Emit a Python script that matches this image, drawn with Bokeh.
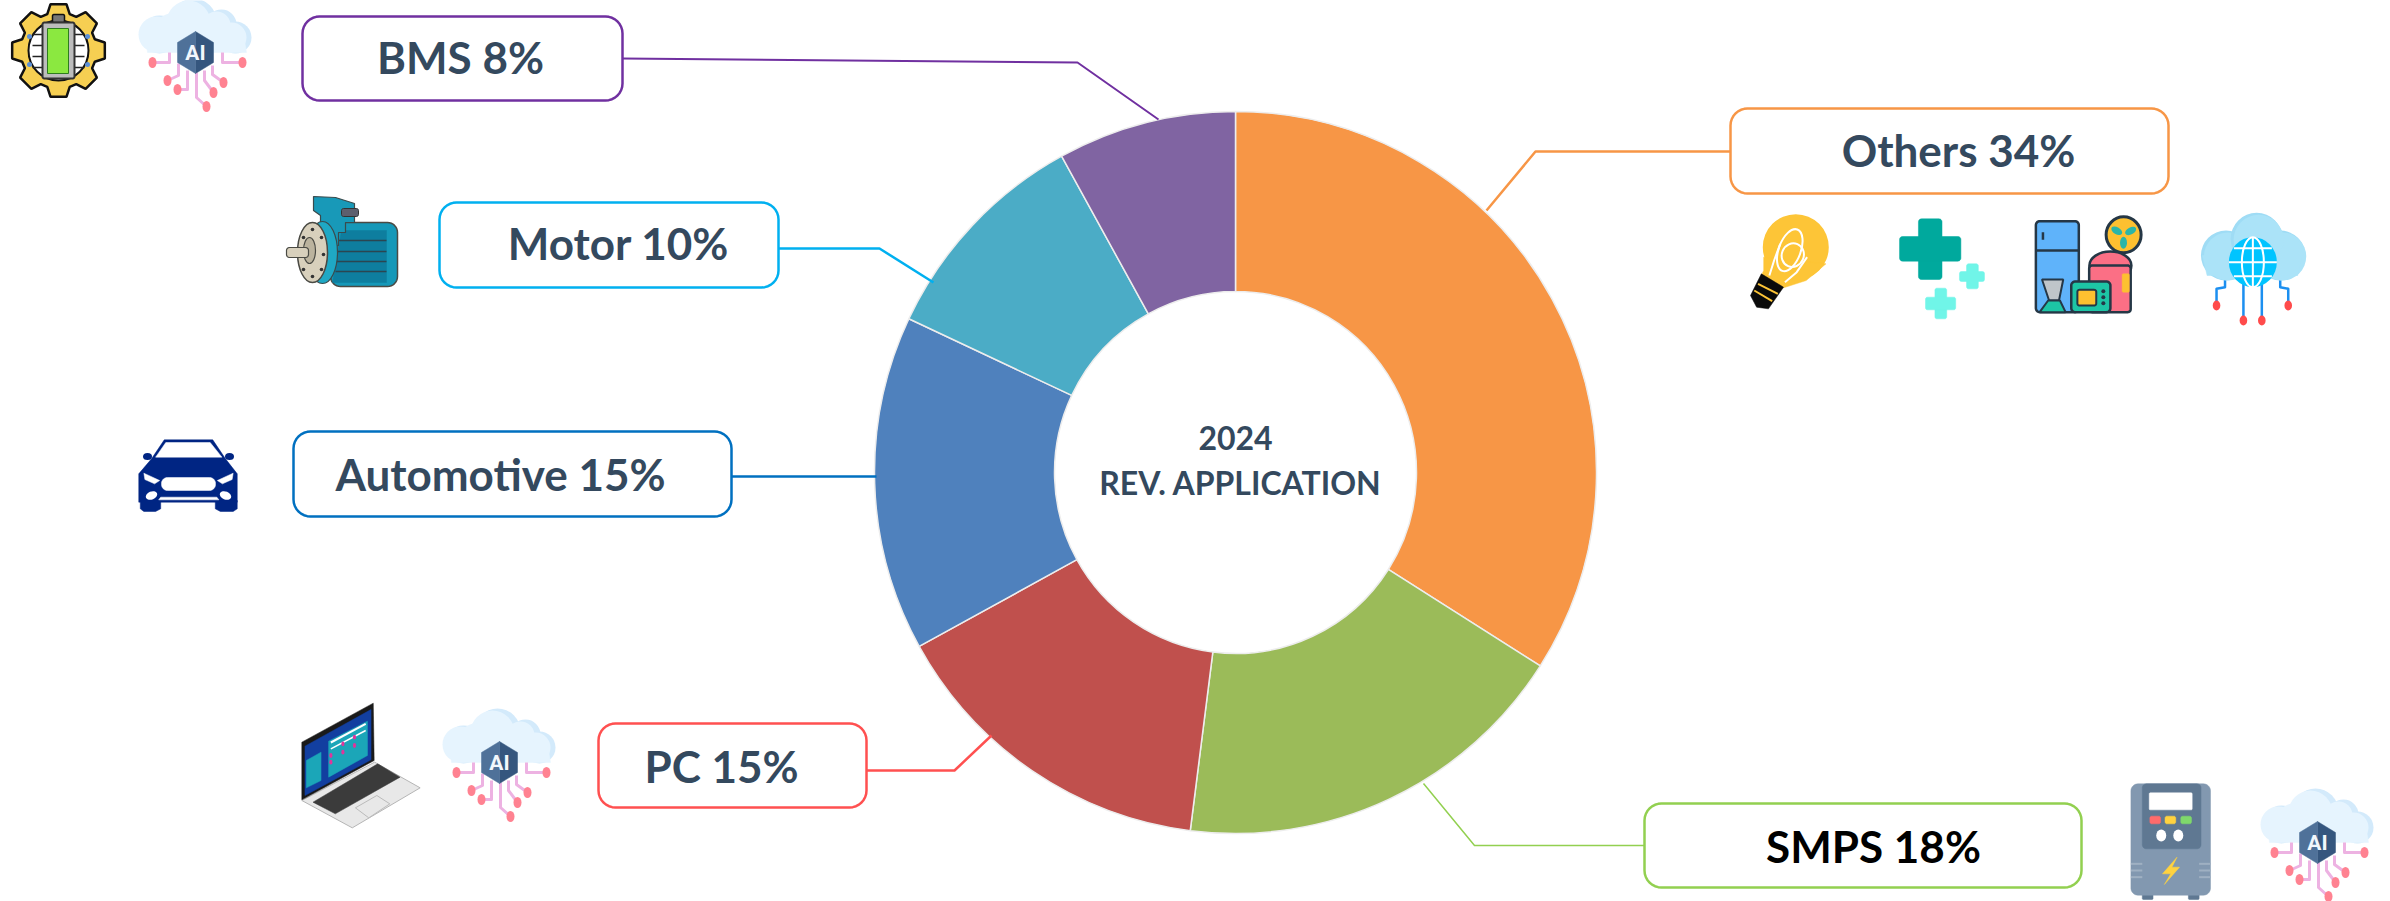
import math
from bokeh.plotting import figure
from bokeh.models import Range1d, ColumnDataSource
from bokeh.core.properties import value
from bokeh.embed import file_html
from bokeh.resources import INLINE

# ---- data -------------------------------------------------------------
categories = ["Others", "SMPS", "PC", "Automotive", "Motor", "BMS"]
shares = [34, 18, 15, 15, 10, 8]
slice_colors = ["#F79646", "#9BBB59", "#C0504D", "#4F81BD", "#4BACC6", "#8064A2"]
center_year = "2024"
center_title = "REV. APPLICATION"

# ---- layout (page pixels) ---------------------------------------------
CX, CY, R_OUT, R_IN = 1235, 472, 361, 181
box_edges = [(1730, 108, 2168, 193), (1644, 803, 2081, 887), (598, 723, 866, 807),
             (293, 431, 731, 516), (439, 202, 778, 287), (302, 16, 622, 100)]
box_colors = ["#F79646", "#92D050", "#FF5050", "#0070C0", "#00B0F0", "#7030A0"]
label_pos = [(1958, 149), (1873, 845), (721, 765), (500, 473), (618, 242), (460, 56)]
label_colors = ["#34495E", "#000000", "#34495E", "#34495E", "#34495E", "#34495E"]
leaders = [
    [(1730, 151), (1535, 151), (1486, 210)],
    [(1644, 845), (1474, 845), (1423, 783)],
    [(866, 770), (954, 770), (991, 735)],
    [(731, 476), (876, 476)],
    [(778, 248), (879, 248), (933, 282)],
    [(622, 58), (1077, 62), (1158, 119)],
]
leader_widths = [2.5, 1.5, 2.5, 2.5, 2.5, 2]

p = figure(width=2390, height=901, x_range=Range1d(0, 2390), y_range=Range1d(-901, 0),
           x_axis_type=None, y_axis_type=None, toolbar_location=None,
           output_backend="svg", min_border=0, outline_line_color=None,
           background_fill_color="white", border_fill_color="white")
p.grid.visible = False


def poly(pts, fill, line=None, lw=1.0):
    p.patch([a for a, _ in pts], [-b for _, b in pts], fill_color=fill,
            line_color=line if line else fill, line_width=lw if line else 0.5)


def line(pts, color, lw=2.0):
    p.line([a for a, _ in pts], [-b for _, b in pts], line_color=color, line_width=lw,
           line_join="round")


def ell(x, y, rx, ry, fill, ln=None, lw=1.0, angle=0.0):
    p.ellipse([x], [-y], width=2 * rx, height=2 * ry, angle=angle, fill_color=fill,
              fill_alpha=1.0 if fill else 0.0, line_color=ln, line_width=lw,
              line_alpha=1.0 if ln else 0.0)


def rrect(x0, y0, x1, y1, r, fill, ln=None, lw=1.0):
    pts = []
    for cx, cy, a0 in [(x1 - r, y0 + r, -90), (x1 - r, y1 - r, 0), (x0 + r, y1 - r, 90), (x0 + r, y0 + r, 180)]:
        for k in range(9):
            t = math.radians(a0 + k * 90 / 8)
            pts.append((cx + r * math.cos(t), cy + r * math.sin(t)))
    poly(pts + pts[:1], fill, ln, lw)


def label(x, y, s, size, color, font="Lato", style="bold"):
    p.text([x], [-y], text=[s], text_font=value(font), text_font_style=style, text_font_size=size,
           text_color=color, text_align="center", text_baseline="middle")


# ---- donut ------------------------------------------------------------
starts, ends, cum = [], [], 0
total = sum(shares)
for s in shares:
    starts.append(math.pi / 2 - 2 * math.pi * (cum + s) / total)
    ends.append(math.pi / 2 - 2 * math.pi * cum / total)
    cum += s
src = ColumnDataSource(dict(cat=categories, share=shares, start=starts, end=ends, color=slice_colors))
p.annular_wedge(x=CX, y=-CY, inner_radius=R_IN, outer_radius=R_OUT, start_angle="start", end_angle="end",
                fill_color="color", line_color="#EDEDED", line_width=1.5, source=src)
label(1235, 437, center_year, "32px", "#34495E")
label(1240, 482, center_title, "32px", "#34495E")

# ---- leaders and callouts ---------------------------------------------
for pts, c, w in zip(leaders, box_colors, leader_widths):
    line(pts, c, w)
for (x0, y0, x1, y1), c in zip(box_edges, box_colors):
    rrect(x0, y0, x1, y1, 17, "#FFFFFF", c, 2.5)
for cat, s, (x, y), c in zip(categories, shares, label_pos, label_colors):
    label(x, y, f"{cat} {s}%", "44px", c)


# ---- pictograms -------------------------------------------------------
def ai_cloud(cx, cy):
    base = "#E6F4FE"
    shade = "#D3EAFB"
    for x, y, r in [(-38, -18, 19), (38, -15, 16), (24, -28, 15), (-4, -31, 23)]:
        ell(cx + x + 2, cy + y, r, r, shade)
    for x, y, r in [(-39, -18, 18), (36, -15, 15), (21, -27, 14), (-7, -30, 22), (-24, -23, 16)]:
        ell(cx + x, cy + y, r, r, base)
    poly([(cx - 50, cy - 18), (cx + 48, cy - 18), (cx + 51, cy), (cx - 48, cy)], base)
    pink = "#EDB2E2"
    dot = "#FF8291"
    tend = [[(-26, 0), (-26, 10), (-43, 10)], [(27, 0), (27, 10), (47, 10)],
            [(-17, 11), (-17, 23), (-28, 28)], [(-8, 18), (-8, 37), (-18, 37)],
            [(1, 20), (1, 45), (11, 54)], [(9, 18), (9, 28), (18, 40)], [(17, 13), (17, 22), (28, 30)]]
    for t in tend:
        line([(cx + a, cy + b) for a, b in t], pink, 3)
        ell(cx + t[-1][0], cy + t[-1][1], 4, 5.5, dot)
    poly([(cx, cy - 21), (cx + 18, cy - 10), (cx + 18, cy + 10), (cx, cy + 21)], "#35567E")
    poly([(cx, cy - 21), (cx - 18, cy - 10), (cx - 18, cy + 10), (cx, cy + 21)], "#4F7199")
    label(cx, cy, "AI", "21px", "#F2F7FC", "Roboto")


# gear + battery
def gear(cx, cy):
    pts = []
    n = 8
    for i in range(n):
        a = 2 * math.pi * i / n - math.pi / 2
        for da, r in [(-0.30, 38), (-0.17, 47), (0.17, 47), (0.30, 38)]:
            pts.append((cx + r * math.cos(a + da), cy + r * math.sin(a + da)))
    poly(pts + pts[:1], "#F6CF52", "#111111", 2.5)
    ell(cx, cy, 30, 30, "#FFFFFF", "#111111", 2)
    for s in (-1, 1):
        for dy in (-16, -5, 6, 17):
            line([(cx + s * 15, cy + dy), (cx + s * 26, cy + dy)], "#222222", 1.5)
        ell(cx + s * 29, cy - 14, 2.5, 2.5, "#5C8FD6")
        ell(cx + s * 29, cy + 14, 2.5, 2.5, "#5C8FD6")
    rrect(cx - 6, cy - 36, cx + 6, cy - 28, 1.5, "#777777", "#111111", 1.5)
    rrect(cx - 16, cy - 28, cx + 16, cy + 28, 2, "#BDBDBD", "#333333", 2)
    poly([(cx - 11, cy - 22), (cx + 10, cy - 22), (cx + 10, cy + 23), (cx - 11, cy + 23), (cx - 11, cy - 22)],
         "#8BE840", "#2E7D1E", 1)


gear(58, 50)
ai_cloud(195, 52)
ai_cloud(499, 762)
ai_cloud(2317, 842)

# motor
rrect(330, 222, 397, 286, 10, "#1598B8", "#4A4A44", 1.5)
poly([(341, 230), (386, 230), (386, 282), (332, 282)], "#0E7E9F")
for yy in (240, 251, 261, 271):
    line([(335, yy), (386, yy)], "#2B4651", 1.5)
poly([(313, 196), (335, 197), (354, 203), (354, 222), (345, 222), (345, 232), (338, 232), (338, 245),
      (320, 250), (320, 215), (313, 210)], "#1899B8", "#3A4A4C", 1.2)
rrect(341, 208, 358, 216, 2, "#5C5F6E", "#333333", 1)
ell(322, 252, 15, 31, "#1FA8C4", "#3A4A4C", 1.2)
ell(312, 252, 15, 30, "#D8D0BC", "#4A4A44", 1.5)
ell(309, 250, 6, 13, "#BBB39E", "#4A4A44", 1.2)
for dx, dy in [(0, -23), (9, -15), (11, 2), (9, 17), (0, 24), (-9, 17), (-9, -15)]:
    ell(312 + dx, 252 + dy, 1.8, 1.8, "#333333")
rrect(286, 247, 308, 257, 3, "#D8D0BC", "#4A4A44", 1.2)


# car
def z5(pts):
    return [(100 + a / 1.96, 180 + b / 3) for a, b in pts]


navy = "#002583"
poly(z5([(100, 835), (125, 778), (220, 778), (245, 835), (268, 880), (268, 965), (75, 965), (75, 880)]), navy)
poly(z5([(78, 960), (118, 960), (118, 985), (108, 993), (85, 993), (78, 985)]), navy)
poly(z5([(225, 960), (268, 960), (268, 985), (260, 993), (235, 993), (225, 985)]), navy)
ell(147, 456, 4.5, 3.5, navy)
ell(229, 456, 4.5, 3.5, navy)
poly(z5([(108, 830), (128, 786), (215, 786), (238, 830)]), "#FFFFFF")
poly(z5([(85, 878), (116, 900), (106, 910), (87, 897)]), "#FFFFFF")
poly(z5([(260, 878), (229, 900), (239, 910), (258, 897)]), "#FFFFFF")
rrect(161, 477, 215, 490, 6, "#FFFFFF")
ell(151, 495, 6, 4, "#FFFFFF", angle=0.4)
ell(225, 495, 6, 4, "#FFFFFF", angle=-0.4)
poly(z5([(118, 950), (228, 950), (232, 958), (114, 958)]), "#FFFFFF")


# laptop
def z3(pts):
    return [(250 + a / 2.24, 680 + b / 3) for a, b in pts]


poly(z3([(115, 360), (278, 245), (380, 322), (228, 442)]), "#E8E8E8", "#B5B5B5", 1)
poly(z3([(140, 365), (285, 250), (335, 290), (190, 400)]), "#3B3B3B")
poly(z3([(235, 382), (283, 345), (312, 370), (265, 412)]), "#E8E8E8", "#BBBBBB", 1)
poly(z3([(115, 185), (275, 68), (277, 240), (115, 358)]), "#1A1A1A")
poly(z3([(122, 197), (270, 87), (270, 238), (122, 345)]), "#123FA0")
poly(z3([(175, 182), (262, 122), (262, 225), (175, 290)]), "#1BA6B8")
poly(z3([(125, 240), (158, 215), (158, 300), (125, 322)]), "#1BA6B8")
line(z3([(180, 186), (258, 130)]), "#FFFFFF", 2)
line(z3([(180, 205), (258, 150)]), "#FFFFFF", 1.5)
for a, b in [(207, 190), (233, 170), (207, 215), (233, 195), (180, 225), (180, 245)]:
    (x, y), = z3([(a, b)])
    ell(x, y, 1.6, 2.4, "#E0359B")


# others group
def z2(pts):
    return [(1650 + a / 2.12, 80 + b / 3) for a, b in pts]


def rect2(a0, b0, a1, b1, r, fill, ln=None, lw=1.0):
    (x0, y0), (x1, y1) = z2([(a0, b0), (a1, b1)])
    rrect(x0, y0, x1, y1, r, fill, ln, lw)


# bulb
(bx, by), = z2([(308, 500)])
ell(bx, by, 33, 33, "#FDC537")
poly(z2([(240, 530), (240, 570), (235, 585), (282, 622), (330, 600), (372, 550)]), "#FDC537")
poly(z2([(235, 580), (282, 620), (250, 685), (225, 680), (212, 645)]), "#0A0A0A")
line(z2([(228, 610), (270, 640)]), "#FDC537", 2)
line(z2([(220, 630), (258, 662)]), "#FDC537", 2)
ell(bx - 6, by + 3, 11, 22, None, "#FFFFFF", 2, angle=-0.35)
ell(bx - 3, by + 8, 11, 12, None, "#FFFFFF", 2, angle=-0.4)
line(z2([(252, 585), (262, 540), (275, 490)]), "#FFFFFF", 2)
line(z2([(285, 605), (310, 575), (332, 530)]), "#FFFFFF", 2)

# crosses
rect2(568, 415, 618, 597, 3, "#00A99D")
rect2(528, 468, 658, 542, 3, "#00A99D")
rect2(670, 550, 695, 625, 2, "#70F5E8")
rect2(655, 573, 708, 603, 2, "#70F5E8")
rect2(603, 623, 628, 715, 2, "#70F5E8")
rect2(583, 650, 647, 688, 2, "#70F5E8")

# appliances
dark = "#253746"
rect2(817, 422, 908, 695, 4, "#5FB3FA", dark, 2.5)
line(z2([(817, 510), (908, 510)]), dark, 2.5)
line(z2([(832, 455), (832, 478)]), dark, 2.5)
line(z2([(1003, 500), (1003, 560)]), dark, 2.5)
(fx, fy), = z2([(1003, 463)])
ell(fx, fy, 17.5, 18, "#FDC030", dark, 3)
for a in (0.5, 2.6, 4.7):
    ell(fx + 8 * math.cos(a), fy - 8 * math.sin(a), 6, 3.5, "#2BB5A8", angle=a)
(dx_, dy_), = z2([(975, 555)])
ell(dx_, dy_, 21, 14, "#FB6F85", dark, 2.5)
rect2(930, 555, 1018, 695, 3, "#FB6F85", dark, 2.5)
rect2(1000, 580, 1015, 635, 1, "#FDC030")
rect2(892, 603, 975, 695, 4, "#1DC5A5", dark, 2.5)
rect2(905, 628, 945, 675, 2, "#FDC030", dark, 2)
for b in (632, 650, 668):
    (x, y), = z2([(960, b)])
    ell(x, y, 2, 2, dark)
poly(z2([(830, 597), (875, 597), (866, 660), (845, 660)]), "#BFC5C9", dark, 2)
poly(z2([(843, 660), (868, 660), (880, 695), (825, 695)]), "#1DC5A5", dark, 2)

# cloud with globe
blue_wire = "#1C8FF0"
for pts in [[(1218, 590), (1218, 620), (1200, 625), (1200, 675)], [(1335, 590), (1335, 620), (1352, 625), (1352, 675)],
            [(1257, 610), (1257, 720)], [(1296, 610), (1296, 720)]]:
    line(z2(pts), blue_wire, 2.5)
    (x, y), = z2([pts[-1]])
    ell(x, y, 3.8, 5, "#FF4B4B")
for (a, b, r) in [(1220, 525, 25), (1335, 525, 25), (1285, 475, 26)]:
    (x, y), = z2([(a, b)])
    ell(x, y, r, r, "#9FDCF5")
    ell(x + 2, y + 1, r - 1, r - 1, "#ABE3F8")
poly(z2([(1170, 525), (1382, 525), (1372, 585), (1180, 585)]), "#ABE3F8")
(gx, gy), = z2([(1277, 545)])
ell(gx, gy, 24, 25, "#00C4FF")
ell(gx, gy, 11, 25, None, "#FFFFFF", 2)
line([(gx, gy - 25), (gx, gy + 25)], "#FFFFFF", 2)
line([(gx - 24, gy), (gx + 24, gy)], "#FFFFFF", 2)
line([(gx - 19, gy - 14), (gx + 19, gy - 14)], "#FFFFFF", 2)
line([(gx - 19, gy + 14), (gx + 19, gy + 14)], "#FFFFFF", 2)


# power unit
def z4(pts):
    return [(1400 + a / 1.584, 760 + b / 3) for a, b in pts]


def rect4(a0, b0, a1, b1, r, fill):
    (x0, y0), (x1, y1) = z4([(a0, b0), (a1, b1)])
    rrect(x0, y0, x1, y1, r, fill)


rect4(1175, 400, 1192, 417, 1, "#5F7892")
rect4(1248, 400, 1265, 417, 1, "#5F7892")
rect4(1157, 70, 1283, 404, 7, "#8298B0")
rect4(1175, 70, 1268, 265, 4, "#5F7892")
rect4(1186, 97, 1254, 148, 1, "#FFFFFF")
rect4(1187, 167, 1204, 190, 2, "#FF6B6B")
rect4(1211, 167, 1228, 190, 2, "#FFD23F")
rect4(1236, 167, 1253, 190, 2, "#7FD86B")
for a in (1205, 1232):
    (x, y), = z4([(a, 225)])
    ell(x, y, 5, 6, "#FFFFFF")
poly(z4([(1230, 290), (1207, 340), (1220, 340), (1210, 372), (1234, 320), (1222, 320)]), "#FFD23F")
for b in (310, 330, 350):
    line(z4([(1157, b), (1175, b)]), "#9FB0C2", 2)
    line(z4([(1265, b), (1283, b)]), "#9FB0C2", 2)

open("out.html", "w").write(file_html(p, INLINE))
